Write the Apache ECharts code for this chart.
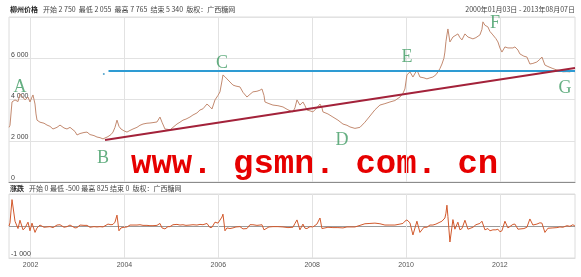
<!DOCTYPE html>
<html><head><meta charset="utf-8">
<script src="https://cdn.jsdelivr.net/npm/echarts@6/dist/echarts.min.js"></script>
<style>html,body{margin:0;padding:0;background:#fff}#c{width:581px;height:277px}</style>
</head><body><div id="c"></div>
<script>
// decimal years of sampled points
var years = [
2001.540,2001.561,2001.604,2001.668,2001.732,2001.774,2001.838,2001.881,2001.945,2001.987,
2002.030,2002.051,2002.094,2002.115,2002.137,2002.200,2002.286,2002.350,2002.413,2002.477,
2002.563,2002.627,2002.712,2002.776,2002.840,2002.882,2002.946,2002.989,2003.053,2003.138,
2003.202,2003.266,2003.351,2003.415,2003.479,2003.543,2003.585,2003.649,2003.713,2003.756,
2003.798,2003.841,2003.883,2003.926,2003.990,2004.054,2004.118,2004.182,2004.267,2004.331,
2004.395,2004.480,2004.544,2004.608,2004.693,2004.757,2004.800,2004.863,2004.927,2004.970,
2005.034,2005.119,2005.183,2005.247,2005.311,2005.396,2005.460,2005.545,2005.609,2005.673,
2005.758,2005.822,2005.865,2005.929,2005.993,2006.035,2006.078,2006.099,2006.142,2006.184,
2006.248,2006.312,2006.376,2006.461,2006.525,2006.610,2006.674,2006.738,2006.823,2006.887,
2006.930,2006.973,2006.994,2007.079,2007.164,2007.271,2007.377,2007.484,2007.590,2007.633,
2007.676,2007.739,2007.803,2007.846,2007.889,2007.953,2008.016,2008.101,2008.166,2008.208,
2008.229,2008.336,2008.442,2008.549,2008.656,2008.741,2008.805,2008.911,2009.018,2009.124,
2009.231,2009.337,2009.444,2009.550,2009.657,2009.763,2009.870,2009.934,2009.976,2010.019,
2010.083,2010.147,2010.232,2010.296,2010.381,2010.445,2010.509,2010.573,2010.637,2010.679,
2010.722,2010.765,2010.807,2010.828,2010.850,2010.871,2010.892,2010.935,2010.999,2011.041,
2011.105,2011.148,2011.191,2011.255,2011.319,2011.361,2011.425,2011.489,2011.574,2011.617,
2011.638,2011.681,2011.744,2011.787,2011.851,2011.915,2011.958,2012.000,2012.043,2012.107,
2012.171,2012.213,2012.277,2012.320,2012.384,2012.426,2012.511,2012.575,2012.639,2012.703,
2012.788,2012.852,2012.895,2012.959,2013.023,2013.065,2013.129,2013.215,2013.279,2013.342,
2013.428,2013.491,2013.555,2013.598];
// 柳州价格
var prices = [
2650,2750,3880,3980,3900,4270,4100,3980,4120,3880,
4120,4220,3780,3300,3000,2900,2850,2760,2700,2570,
2650,2760,2620,2570,2650,2670,2450,2280,2350,2400,
2420,2300,2250,2180,2150,2090,2055,2200,2300,2420,
2650,3000,2700,2570,2480,2420,2500,2570,2650,2750,
2810,2850,2860,2880,2910,3150,2900,2570,2550,2520,
2650,2810,2900,3000,3050,3150,3250,3350,3490,3550,
3780,3650,3540,3980,4200,4370,4900,5190,5100,5000,
4850,4700,4650,4610,4350,4120,4250,4370,4400,4450,
4510,4200,3880,3800,3730,3700,3640,3500,3400,3600,
3980,3730,3880,3700,3490,3450,3400,3600,3780,3600,
3400,3300,3150,3000,2810,2750,2670,2600,2650,2900,
3200,3500,3730,3800,3880,3950,4120,4300,4510,5190,
5340,5090,5430,5090,5050,5000,5050,5090,5200,5340,
5500,5720,6000,6300,6800,7130,7420,6790,7030,7000,
7180,7000,6890,7180,7030,7000,6940,7000,7130,7400,
7765,7600,7520,7300,7130,6950,6790,6500,6300,6550,
6500,6450,6500,6550,6400,6210,6100,6060,5720,5750,
5820,5950,6060,5670,5600,5580,5500,5430,5400,5340,
5350,5340,5400,5340];
// 涨跌
var changes = [
0,100,825,150,-80,180,-120,-60,120,-150,
90,60,-200,-150,-60,30,-40,-30,-20,-50,
30,40,-40,-20,30,10,-60,-50,30,20,
20,-40,-20,-30,-20,-30,-20,60,40,50,
120,340,-150,-60,-40,-30,30,30,30,40,
20,20,10,10,20,80,-60,-90,-20,-20,
40,50,30,40,20,30,40,30,50,40,
80,-50,-40,120,90,60,280,370,-150,-60,
-80,-60,-30,-20,-90,-80,40,40,20,30,
40,-120,-110,-30,-20,-20,-30,-50,-40,80,
190,-120,60,-70,-80,-20,-30,60,250,-80,
-80,-40,-50,-50,-60,-30,-30,-30,20,70,
80,90,70,30,30,30,60,80,150,190,
100,-280,150,-200,-40,-40,30,30,60,100,
120,150,200,250,400,650,300,-500,200,-100,
120,-120,-80,180,-100,-60,-40,40,80,150,
200,-120,-80,-150,-120,-120,-100,-180,-150,150,
-60,-50,50,60,-100,-120,-80,-40,220,30,
60,100,90,-200,-70,-30,-60,-50,-30,-40,
10,-10,40,0];
var yearTicks = [2002, 2004, 2006, 2008, 2010, 2012];
var supportLine = [[2003.585, 2040], [2013.6, 5530]];
var resistLine = [[2003.66, 5380], [2013.6, 5380]];
var resistDot = [[2003.56, 5240]];
var letterNames = ['A','B','C','D','E','F','G'];
var letterYears = [2001.774, 2003.543, 2006.078, 2008.634, 2010.019, 2011.894, 2013.385];
var letterValues = [4585, 1170, 5756, 2000, 6049, 7707, 4537];
var headerTop = '开始 2 750  最低 2 055  最高 7 765  结束 5 340  版权：广西糖网';
var headerBottom = '开始 0 最低 -500 最高 825 结束 0  版权：广西糖网';
var dateRange = '2000年01月03日 - 2013年08月07日';

function fmt(v){ return String(v).replace(/\B(?=(\d{3})+(?!\d))/g, ' '); }
var priceData = years.map(function(y,i){ return [y, prices[i]]; });
var changeData = years.map(function(y,i){ return [y, changes[i]]; });
var letterData = letterNames.map(function(n,i){ return {name:n, value:[letterYears[i], letterValues[i]]}; });

var chart = echarts.init(document.getElementById('c'), null, {renderer:'canvas'});
var cjk = '"Noto Sans CJK SC", sans-serif';
var gridLine = {show:true, lineStyle:{color:'#e2e2e2', width:1}};
chart.setOption({
  animation:false,
  backgroundColor:'#fff',
  grid:[
    {left:9, right:6, top:17, bottom:95, show:true, borderColor:'#dcdcdc', borderWidth:1},
    {left:9, right:6, top:194, bottom:19, show:true, borderColor:'#dcdcdc', borderWidth:1}
  ],
  xAxis:[
    {type:'value', gridIndex:0, min:2001.54, max:2013.6,
     axisLine:{show:true, onZero:false, lineStyle:{color:'#8c8c8c'}},
     axisTick:{show:false, customValues:yearTicks},
     axisLabel:{show:false, customValues:yearTicks},
     splitLine:gridLine},
    {type:'value', gridIndex:1, min:2001.54, max:2013.6,
     axisLine:{show:true, onZero:false, lineStyle:{color:'#dcdcdc'}},
     axisTick:{show:false, customValues:yearTicks},
     axisLabel:{show:true, customValues:yearTicks, color:'#555', fontSize:7, fontFamily:'Arial, "Liberation Sans", sans-serif', margin:4,
       formatter:function(v){ return String(Math.round(v)); }},
     splitLine:gridLine}
  ],
  yAxis:[
    {type:'value', gridIndex:0, min:0, max:8000, interval:2000,
     axisLine:{show:false}, axisTick:{show:false},
     axisLabel:{inside:true, margin:2, color:'#444', fontSize:7, verticalAlign:'bottom', fontFamily:'Arial, "Liberation Sans", sans-serif',
       formatter:function(v){ return v>=8000 ? '' : fmt(v); }},
     splitLine:gridLine},
    {type:'value', gridIndex:1, min:-1000, max:1000, interval:1000,
     axisLine:{show:false}, axisTick:{show:false},
     axisLabel:{inside:true, margin:2, color:'#444', fontSize:7, verticalAlign:'bottom', fontFamily:'Arial, "Liberation Sans", sans-serif',
       formatter:function(v){ return v===-1000 ? fmt(v) : ''; }},
     splitLine:{show:true, lineStyle:{color:['#dcdcdc','#9a9a9a','#dcdcdc'], width:1}}}
  ],
  series:[
    {type:'line', xAxisIndex:0, yAxisIndex:0, data:priceData, symbol:'none',
     lineStyle:{color:'#c38a70', width:1}},
    {type:'line', xAxisIndex:0, yAxisIndex:0, data:resistLine, symbol:'none',
     lineStyle:{color:'#2e9bd3', width:2}},
    {type:'scatter', xAxisIndex:0, yAxisIndex:0, data:resistDot, symbolSize:2,
     itemStyle:{color:'#2b8fbf'}},
    {type:'line', xAxisIndex:0, yAxisIndex:0, data:supportLine, symbol:'none',
     lineStyle:{color:'#a3223a', width:2}},
    {type:'scatter', xAxisIndex:0, yAxisIndex:0, data:letterData, symbolSize:1,
     itemStyle:{color:'rgba(0,0,0,0)'},
     label:{show:true, position:'inside', formatter:'{b}', color:'#3f9b63', fontSize:18, fontFamily:'"Liberation Serif", serif'}},
    {type:'line', xAxisIndex:1, yAxisIndex:1, data:changeData, symbol:'none',
     lineStyle:{color:'#d2592c', width:1}}
  ],
  graphic:[
    {type:'text', left:10, top:6, style:{text:'柳州价格', font:'bold 7px '+cjk, fill:'#222'}},
    {type:'text', left:43, top:6, style:{text:headerTop, font:'7px '+cjk, fill:'#444'}},
    {type:'text', right:6, top:6, style:{text:dateRange, font:'7px '+cjk, fill:'#444'}},
    {type:'text', left:10, top:185, style:{text:'涨跌', font:'bold 7px '+cjk, fill:'#222'}},
    {type:'text', left:29, top:185, style:{text:headerBottom, font:'7px '+cjk, fill:'#444'}},
    {type:'text', left:131, top:147, style:{text:'www. gsmn. com. cn', font:'bold 34px "Liberation Mono", monospace', fill:'#e60000'}}
  ]
});
</script></body></html>
